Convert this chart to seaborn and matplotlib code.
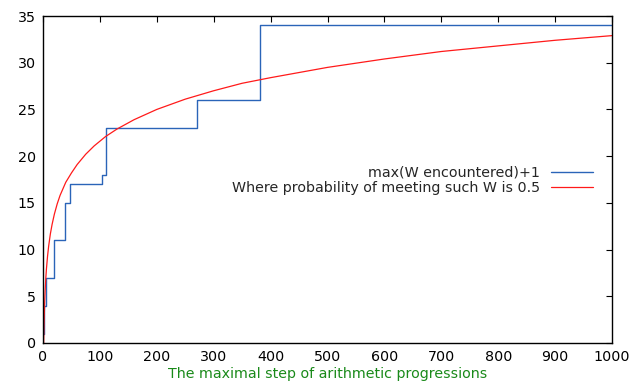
import matplotlib
matplotlib.use("Agg")
import matplotlib.pyplot as plt
import seaborn as sns
import pandas as pd

# Largest W seen so far (plus one), as a step function of the maximal step
step_x = [0, 1, 2, 5, 19, 38, 48, 104, 110, 271, 382, 1000]
step_w = [1, 3, 4, 7, 11, 15, 17, 18, 23, 26, 34, 34]

# W at which the probability of meeting such W reaches 0.5
half_x = [1.2, 1.5, 2, 3, 4, 5, 6, 8, 10, 13, 16, 20, 25, 30, 40, 50, 60, 75,
          90, 110, 130, 160, 200, 250, 300, 350, 400, 500, 600, 700, 800, 900, 1000]
half_w = [0.0, 1.1, 2.5, 4.5, 5.9, 7.0, 7.9, 9.3, 10.4, 11.7, 12.7, 13.8, 14.9,
          15.8, 17.2, 18.2, 19.1, 20.2, 21.1, 22.1, 22.9, 23.9, 25.0, 26.1, 27.0,
          27.8, 28.4, 29.5, 30.4, 31.2, 31.8, 32.4, 32.9]

x_ticks = [0, 100, 200, 300, 400, 500, 600, 700, 800, 900, 1000]
y_ticks = [0, 5, 10, 15, 20, 25, 30, 35]

sns.set_style("white")
plt.rcParams["font.family"] = ["DejaVu Sans"]

fs = 10.3

fig = plt.figure(figsize=(6.44, 3.83), dpi=100)
ax = fig.add_axes([43 / 644, 40 / 383, 569 / 644, 327 / 383])

steps = pd.DataFrame({"x": step_x, "w": step_w})
half = pd.DataFrame({"x": half_x, "w": half_w})

sns.lineplot(data=steps, x="x", y="w", ax=ax, color="#2a64b8", linewidth=1.0,
             drawstyle="steps-post", estimator=None, sort=False,
             label="max(W encountered)+1")
sns.lineplot(data=half, x="x", y="w", ax=ax, color="#ff1a1a", linewidth=0.9,
             estimator=None, sort=False,
             label="Where probability of meeting such W is 0.5")

ax.set_xlim(0, 1000)
ax.set_ylim(0, 35)
ax.set_xticks(x_ticks)
ax.set_yticks(y_ticks)
ax.tick_params(direction="in", length=4, width=0.8, top=True, right=True,
               labelsize=fs, colors="black", pad=5)
for s in ax.spines.values():
    s.set_visible(True)
    s.set_color("black")
    s.set_linewidth(1.0)

ax.set_xlabel("The maximal step of arithmetic progressions", color="#1a8a1a",
              fontsize=fs, labelpad=2.5)
ax.set_ylabel("")

leg = ax.legend(loc="upper right", bbox_to_anchor=(0.977, 0.559), frameon=False,
                markerfirst=False, fontsize=fs, handlelength=2.95,
                handletextpad=0.75, labelspacing=0.05, borderaxespad=0)

fig.savefig("out.png", dpi=100)
